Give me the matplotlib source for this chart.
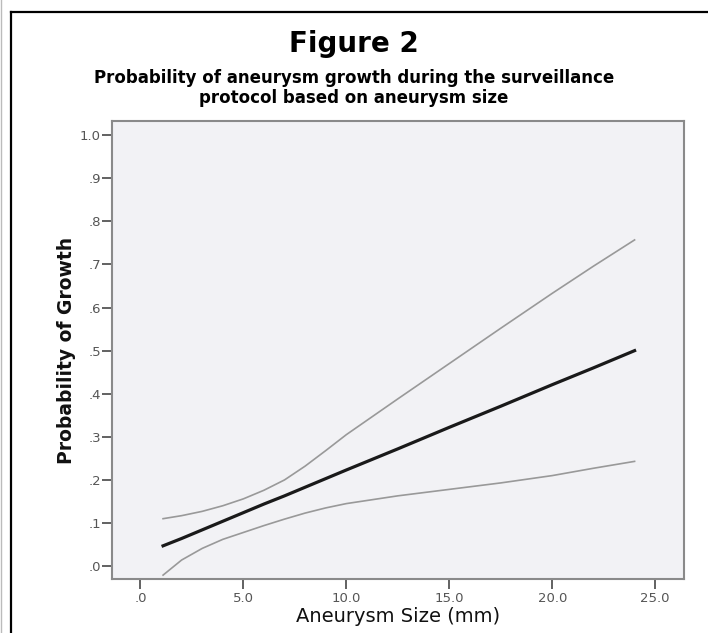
import matplotlib
matplotlib.use("Agg")
import matplotlib.pyplot as plt
from matplotlib.lines import Line2D

# aneurysm size (mm) and fitted probability of growth with 95% band
size_mm = [1.1, 2.0, 3.0, 4.0, 5.0, 6.0, 7.0, 8.0, 9.0, 10.0, 12.5, 15.0, 17.5, 20.0, 22.0, 24.0]
prob_fit = [0.047, 0.064, 0.084, 0.104, 0.124, 0.144, 0.163, 0.183, 0.203, 0.223,
            0.272, 0.322, 0.371, 0.421, 0.460, 0.500]
prob_upper = [0.110, 0.117, 0.127, 0.140, 0.156, 0.176, 0.200, 0.232, 0.268, 0.305,
              0.388, 0.470, 0.552, 0.633, 0.696, 0.757]
prob_lower = [-0.021, 0.014, 0.041, 0.062, 0.078, 0.094, 0.109, 0.123, 0.135, 0.145,
              0.163, 0.178, 0.193, 0.210, 0.227, 0.243]

x_ticks = [0, 5, 10, 15, 20, 25]
x_ticklabels = [".0", "5.0", "10.0", "15.0", "20.0", "25.0"]
y_ticks = [0.0, 0.1, 0.2, 0.3, 0.4, 0.5, 0.6, 0.7, 0.8, 0.9, 1.0]
y_ticklabels = [".0", ".1", ".2", ".3", ".4", ".5", ".6", ".7", ".8", ".9", "1.0"]

fig = plt.figure(figsize=(7.08, 6.33), dpi=100)
fig.patch.set_facecolor("white")

# outer frame of the figure panel
fig.add_artist(Line2D([11/708, 1.0], [1 - 12/633, 1 - 12/633], color="black", lw=1.6))
fig.add_artist(Line2D([11/708, 11/708], [0.0, 1 - 12/633], color="black", lw=1.6))
fig.add_artist(Line2D([1/708, 1/708], [0.0, 1.0], color="#bbbbbb", lw=1.0))

fig.text(0.5, 1 - 44/633, "Figure 2", ha="center", va="center",
         fontsize=20, fontweight="bold", family="DejaVu Sans")
fig.text(0.5, 1 - 88/633,
         "Probability of aneurysm growth during the surveillance\nprotocol based on aneurysm size",
         ha="center", va="center", fontsize=12, fontweight="bold",
         family="DejaVu Sans", linespacing=1.15)

ax = fig.add_axes([112/708, 1 - 579/633, (684 - 112)/708, (579 - 121)/633])
ax.set_facecolor("#f2f2f5")

ax.plot(size_mm, prob_upper, color="#999999", lw=1.2)
ax.plot(size_mm, prob_lower, color="#999999", lw=1.2)
ax.plot(size_mm, prob_fit, color="#1a1a1a", lw=2.3)

ax.set_xlim(-1.38, 26.4)
ax.set_ylim(-0.030, 1.033)
ax.set_xticks(x_ticks)
ax.set_xticklabels(x_ticklabels)
ax.set_yticks(y_ticks)
ax.set_yticklabels(y_ticklabels)

for side in ["left", "bottom", "right", "top"]:
    ax.spines[side].set_color("#8a8a8a")
    ax.spines[side].set_linewidth(1.5)
ax.tick_params(axis="both", direction="out", length=7, width=1.3,
               color="#555555", labelcolor="#555555", labelsize=9.5)
ax.tick_params(axis="x", pad=2)
ax.tick_params(axis="y", pad=1)

ax.set_xlabel("Aneurysm Size (mm)", fontsize=14, color="#111111", labelpad=2)
ax.set_ylabel("Probability of Growth", fontsize=13.5, fontweight="bold",
              color="#111111", labelpad=3)

fig.savefig("out.png", dpi=100)
